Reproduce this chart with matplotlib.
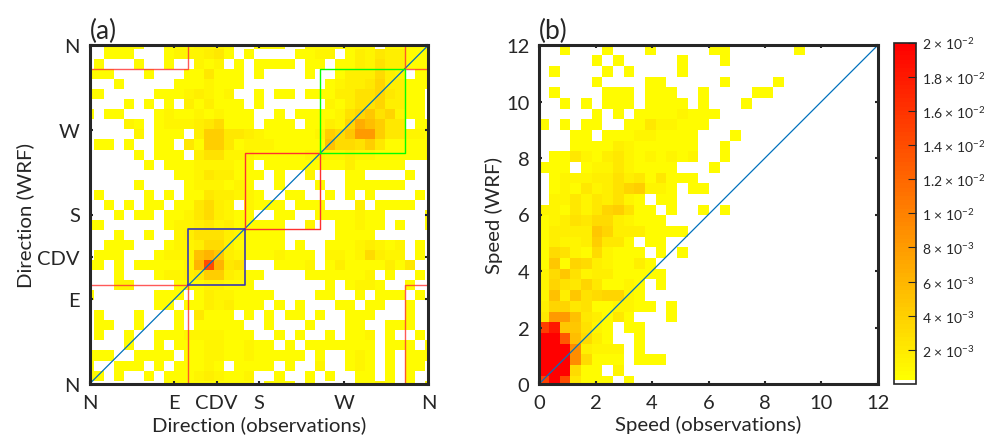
import numpy as np
import matplotlib
matplotlib.use("Agg")
import matplotlib.pyplot as plt
from matplotlib.colors import ListedColormap

plt.rcParams['font.family'] = ['Lato', 'DejaVu Sans']
plt.rcParams['mathtext.default'] = 'regular'

# histogram values, top row first, in units of 0.5e-3
unit = 0.5e-3
direction_hist = [
    [0,0,1,1,1,1,0,0,1,1,1,2,2,2,1,0,0,1,1,1,0,0,1,1,1,1,1,1,1,0,1,1,1,1,1],
    [0,0,1,1,1,0,0,0,1,2,2,2,3,4,1,0,1,0,0,0,0,1,1,2,2,0,1,3,2,4,3,3,1,1,1],
    [0,1,0,0,0,1,0,0,1,0,0,2,1,2,0,1,0,1,1,1,1,0,1,1,0,1,1,3,2,5,3,3,1,1,1],
    [1,1,1,0,0,0,1,0,0,0,1,1,4,1,1,1,0,1,0,0,0,0,1,0,0,1,3,3,3,6,3,2,0,1,1],
    [0,0,0,1,0,0,0,0,0,1,1,1,2,1,1,1,0,0,0,0,0,0,0,0,1,2,3,3,4,7,3,3,1,1,1],
    [1,1,0,0,0,0,0,1,1,1,2,3,2,1,2,0,0,1,0,1,1,0,1,1,1,3,3,5,5,7,4,3,1,1,0],
    [0,0,0,0,1,0,1,0,1,0,3,1,3,1,1,1,0,1,0,0,0,0,0,0,2,1,3,5,5,7,3,3,1,1,0],
    [1,0,1,1,0,0,0,1,2,1,1,2,1,2,1,1,1,0,0,1,0,1,1,1,1,2,5,7,9,5,7,2,1,1,0],
    [0,0,0,0,2,1,0,1,2,2,2,3,4,6,1,1,1,0,1,1,1,0,1,1,3,2,7,13,11,8,4,4,0,1,1],
    [0,0,0,0,0,2,0,1,1,1,0,3,8,8,4,4,3,2,1,1,1,1,1,2,8,6,9,16,16,8,4,4,2,2,1],
    [0,1,1,0,1,0,0,1,1,0,4,1,8,8,4,1,2,2,2,1,1,1,1,1,10,6,6,5,8,4,1,1,1,1,1],
    [0,0,0,0,0,1,0,1,1,1,0,3,5,5,2,2,2,1,1,1,1,1,2,3,2,2,3,2,2,1,1,1,1,1,1],
    [0,0,0,0,0,0,1,0,1,1,1,2,2,2,2,1,1,0,1,1,1,1,1,1,1,1,3,1,1,1,1,1,0,0,0],
    [0,0,0,0,0,0,0,0,0,1,1,2,4,3,3,1,1,1,0,1,0,0,2,0,0,0,1,1,0,0,0,0,1,0,0],
    [0,0,0,0,0,1,0,0,0,0,1,2,2,2,1,2,1,0,0,1,0,0,0,1,0,0,1,1,1,1,1,1,0,0,0],
    [0,1,0,0,0,0,1,0,1,0,1,1,4,3,3,2,2,1,0,0,1,1,0,0,1,0,1,0,1,0,0,0,0,1,0],
    [0,0,1,0,1,0,1,1,0,1,1,4,6,3,2,0,2,1,1,1,0,1,1,1,0,0,0,3,0,1,1,1,1,0,0],
    [0,0,0,1,0,1,1,0,1,1,2,4,6,3,2,1,1,0,0,1,1,0,0,1,1,1,1,2,1,1,0,0,0,0,1],
    [1,1,0,0,0,0,0,0,1,2,2,3,4,2,3,1,1,1,1,1,0,0,2,0,0,1,1,2,1,1,0,1,0,0,1],
    [0,0,0,1,0,0,1,0,0,2,3,5,5,5,3,2,1,1,1,1,0,0,0,0,0,1,1,1,1,0,0,0,0,0,0],
    [0,0,1,1,1,0,0,0,1,2,2,3,6,6,3,1,1,1,1,1,0,1,0,0,1,1,1,2,3,2,1,2,0,1,0],
    [0,1,1,1,0,0,0,1,2,2,2,10,12,9,3,2,1,1,1,2,1,1,1,0,2,2,1,2,6,3,2,2,0,1,0],
    [1,1,0,1,0,1,1,1,1,1,2,12,28,12,4,5,0,0,0,1,1,1,2,0,1,3,1,1,1,1,3,1,4,0,0],
    [0,0,0,1,0,0,0,1,2,2,3,4,8,8,3,2,1,1,0,0,0,0,1,1,1,1,1,1,2,0,1,0,0,1,0],
    [0,0,0,2,2,0,0,0,0,1,1,1,2,2,1,1,1,0,0,0,0,0,0,0,1,0,1,2,2,1,0,0,1,0,0],
    [1,0,0,0,0,0,0,1,1,1,0,1,3,2,2,1,1,1,1,0,0,0,0,1,1,0,0,1,0,1,1,1,0,1,0],
    [0,0,0,0,0,0,0,1,1,0,1,1,3,2,3,1,1,1,0,1,0,1,0,0,0,1,1,0,1,1,0,0,1,0,0],
    [0,1,0,0,0,1,0,0,0,1,0,4,1,1,1,0,1,0,1,0,1,1,0,1,0,0,1,1,1,0,0,0,1,0,0],
    [0,1,1,0,0,1,0,0,0,1,0,1,1,1,1,1,0,0,1,0,0,0,1,0,0,0,1,1,0,0,1,1,1,0,0],
    [0,1,0,0,1,0,0,1,1,1,2,2,2,2,1,1,1,0,0,1,0,1,0,0,1,0,1,1,2,0,1,0,0,1,0],
    [0,0,0,0,1,0,0,1,0,1,1,1,2,2,1,1,2,1,1,0,1,0,1,1,1,1,1,1,1,0,1,1,1,0,1],
    [1,1,1,0,0,1,1,1,1,0,1,1,2,2,1,1,2,1,1,1,1,1,0,1,0,0,1,2,1,0,1,0,1,1,1],
    [1,0,0,1,1,1,0,1,0,1,1,1,2,1,0,1,1,1,1,0,1,0,0,2,0,0,1,2,1,0,1,0,1,1,0],
    [1,1,0,1,0,0,1,0,1,1,1,2,3,2,1,1,2,0,0,1,0,0,1,0,1,0,0,1,1,0,1,0,1,0,0],
    [0,0,0,0,0,0,0,0,1,1,1,1,1,1,1,1,1,0,1,1,1,0,1,0,0,0,0,1,1,2,1,0,1,0,1],
]
speed_hist = [
    [0,0,1,0,0,0,1,0,0,0,1,0,0,0,0,0,1,1,0,0,0,0,0,0,1,0,0,0,0,0,0,0],
    [0,0,0,0,0,1,0,1,0,0,0,0,0,1,0,0,0,1,0,0,0,0,0,0,0,0,0,0,0,0,0,0],
    [0,1,0,0,0,0,1,0,1,0,0,0,0,1,0,0,0,0,0,0,0,0,0,0,0,0,0,0,0,0,0,0],
    [0,0,0,0,0,1,0,0,0,0,1,1,0,0,0,0,0,1,0,0,0,0,1,0,0,0,0,0,0,0,0,0],
    [0,1,0,0,0,0,1,1,1,0,1,1,1,0,0,1,0,0,0,0,1,1,0,0,0,0,0,0,0,0,0,0],
    [0,0,1,0,1,0,1,1,1,0,1,1,1,1,0,1,0,0,0,1,0,0,0,0,0,0,0,0,0,0,0,0],
    [0,0,0,0,0,1,0,1,0,1,1,1,1,2,1,1,1,0,0,0,0,0,0,0,0,0,0,0,0,0,0,0],
    [1,0,1,0,1,1,0,0,1,1,4,2,2,1,1,1,0,0,0,0,0,0,0,0,0,0,0,0,0,0,0,0],
    [0,0,0,1,1,0,1,1,1,2,2,1,1,1,1,0,0,0,1,0,0,0,0,0,0,0,0,0,0,0,0,0],
    [0,0,0,1,1,1,1,3,2,1,1,1,1,1,1,0,0,1,0,0,0,0,0,0,0,0,0,0,0,0,0,0],
    [0,1,1,4,2,1,3,4,2,1,2,1,2,1,2,0,0,1,0,0,0,0,0,0,0,0,0,0,0,0,0,0],
    [1,1,1,0,1,2,2,4,2,1,1,1,1,0,0,0,1,0,0,0,0,0,0,0,0,0,0,0,0,0,0,0],
    [0,1,2,2,2,3,3,5,3,4,1,4,1,1,1,0,0,0,0,0,0,0,0,0,0,0,0,0,0,0,0,0],
    [0,1,2,1,4,2,3,5,7,8,2,2,1,0,1,1,0,0,0,0,0,0,0,0,0,0,0,0,0,0,0,0],
    [0,2,2,4,2,4,3,5,2,1,0,1,1,0,0,0,0,0,0,0,0,0,0,0,0,0,0,0,0,0,0,0],
    [2,2,1,4,2,4,7,8,5,1,1,0,1,0,0,1,0,1,0,0,0,0,0,0,0,0,0,0,0,0,0,0],
    [1,2,3,5,4,6,6,3,2,1,1,1,0,0,0,0,0,0,0,0,0,0,0,0,0,0,0,0,0,0,0,0],
    [1,3,3,3,3,9,7,3,3,3,1,1,1,1,0,0,0,0,0,0,0,0,0,0,0,0,0,0,0,0,0,0],
    [1,3,2,2,3,8,4,4,1,0,1,1,0,0,0,0,0,0,0,0,0,0,0,0,0,0,0,0,0,0,0,0],
    [1,6,5,2,1,6,2,1,1,1,0,1,0,1,0,0,0,0,0,0,0,0,0,0,0,0,0,0,0,0,0,0],
    [1,9,1,7,6,3,2,1,1,3,1,0,0,0,0,0,0,0,0,0,0,0,0,0,0,0,0,0,0,0,0,0],
    [2,6,9,5,2,3,3,1,1,1,1,1,0,0,0,0,0,0,0,0,0,0,0,0,0,0,0,0,0,0,0,0],
    [2,7,5,4,7,4,1,1,2,1,0,1,0,0,0,0,0,0,0,0,0,0,0,0,0,0,0,0,0,0,0,0],
    [2,10,3,9,5,6,7,7,2,1,0,0,0,0,0,0,0,0,0,0,0,0,0,0,0,0,0,0,0,0,0,0],
    [3,7,7,4,5,1,1,2,2,1,1,0,1,0,0,0,0,0,0,0,0,0,0,0,0,0,0,0,0,0,0,0],
    [4,16,16,10,4,3,1,4,1,0,0,0,1,0,0,0,0,0,0,0,0,0,0,0,0,0,0,0,0,0,0,0],
    [30,36,9,9,5,2,1,0,1,1,0,0,0,0,0,0,0,0,0,0,0,0,0,0,0,0,0,0,0,0,0,0],
    [40,40,26,11,6,3,1,0,0,1,0,0,0,0,0,0,0,0,0,0,0,0,0,0,0,0,0,0,0,0,0,0],
    [40,40,40,18,3,2,2,2,0,1,0,0,0,0,0,0,0,0,0,0,0,0,0,0,0,0,0,0,0,0,0,0],
    [40,40,40,18,6,1,1,1,0,1,1,1,0,0,0,0,0,0,0,0,0,0,0,0,0,0,0,0,0,0,0,0],
    [40,40,40,6,1,1,0,2,0,0,0,0,0,0,0,0,0,0,0,0,0,0,0,0,0,0,0,0,0,0,0,0],
    [30,40,28,4,1,1,1,0,1,0,0,0,0,0,0,0,0,0,0,0,0,0,0,0,0,0,0,0,0,0,0,0],
]

dir_ticks = [0, 90, 135, 180, 270, 360]
dir_labels = ['N', 'E', 'CDV', 'S', 'W', 'N']
speed_ticks = [0, 2, 4, 6, 8, 10, 12]
cbar_ticks = [0.002, 0.004, 0.006, 0.008, 0.01, 0.012, 0.014, 0.016, 0.018, 0.02]
cbar_labels = ['2 $\\times$ 10$^{-3}$', '4 $\\times$ 10$^{-3}$', '6 $\\times$ 10$^{-3}$', '8 $\\times$ 10$^{-3}$',
               '1 $\\times$ 10$^{-2}$', '1.2 $\\times$ 10$^{-2}$', '1.4 $\\times$ 10$^{-2}$',
               '1.6 $\\times$ 10$^{-2}$', '1.8 $\\times$ 10$^{-2}$', '2 $\\times$ 10$^{-2}$']
# sector boundaries in degrees
sec = [105, 165, 245, 335]

dark = '#262626'
W, H = 984, 439


def px_axes(l, t, r, b):
    return fig.add_axes([l / W, 1 - b / H, (r - l) / W, (b - t) / H])


levels = np.linspace(0, 1, 79)
cols = np.column_stack([np.ones(79), 1 - levels, np.zeros(79)])
cmap = ListedColormap(np.vstack([[1, 1, 1], cols]))

fig = plt.figure(figsize=(W / 100, H / 100), dpi=100)

# panel a
ax = px_axes(89.5, 46, 428.5, 385)
Z = np.array(direction_hist)[::-1] * unit
w = 10.67
x_edges = np.r_[0, 4.4 + w * np.arange(34), 360]
y_edges = np.r_[0, 3.6 + w * np.arange(34), 360]
mesh = ax.pcolormesh(x_edges, y_edges, Z, cmap=cmap, vmin=0, vmax=0.02, antialiased=False)
ax.plot([0, 360], [0, 360], color='#0072BD', lw=0.9)
red = '#FF3030'
ax.plot([0, sec[0], sec[0]], [sec[3], sec[3], 360], color=red, lw=1, alpha=0.8)
ax.plot([0, sec[0], sec[0]], [sec[0], sec[0], 0], color=red, lw=1, alpha=0.8)
ax.plot([sec[3], sec[3], 360], [0, sec[0], sec[0]], color=red, lw=1, alpha=0.8)
ax.plot([sec[3], sec[3], 360], [360, sec[3], sec[3]], color=red, lw=1, alpha=0.8)
ax.plot([sec[1], sec[2], sec[2], sec[1], sec[1]], [sec[1], sec[1], sec[2], sec[2], sec[1]], color=red, lw=1)
ax.plot([sec[2], sec[3], sec[3], sec[2], sec[2]], [sec[2], sec[2], sec[3], sec[3], sec[2]], color='#00FF00', lw=1)
ax.plot([sec[0], sec[1], sec[1], sec[0], sec[0]], [sec[0], sec[0], sec[1], sec[1], sec[0]], color='#3A3AB0', lw=1.2)
ax.set_xlim(0, 360)
ax.set_ylim(0, 360)
ax.set_xticks(dir_ticks, dir_labels)
ax.set_yticks(dir_ticks, dir_labels)
ax.set_xlabel('Direction (observations)', fontsize=14.7, color=dark, labelpad=3)
ax.set_ylabel('Direction (WRF)', fontsize=14.7, color=dark, labelpad=2)
ax_a = ax

# panel b
ax = px_axes(539, 46, 878, 385)
Z = np.array(speed_hist)[::-1] * unit
w = 0.3777
x_edges = np.r_[0, 0.35 + w * np.arange(31)]
x_edges = np.r_[x_edges, 12]
y_edges = np.r_[0, 0.3 + w * np.arange(31)]
y_edges = np.r_[y_edges, 12]
mesh = ax.pcolormesh(x_edges, y_edges, Z, cmap=cmap, vmin=0, vmax=0.02, antialiased=False)
ax.plot([0, 12], [0, 12], color='#0072BD', lw=0.9)
ax.set_xlim(0, 12)
ax.set_ylim(0, 12)
ax.set_xticks(speed_ticks)
ax.set_yticks(speed_ticks)
ax.set_xlabel('Speed (observations)', fontsize=14.7, color=dark, labelpad=3)
ax.set_ylabel('Speed (WRF)', fontsize=14.7, color=dark, labelpad=2)
ax_b = ax

for ax, name in [(ax_a, '(a)'), (ax_b, '(b)')]:
    ax.tick_params(direction='in', length=2.5, width=1.5, top=True, right=True, labelsize=14.5,
                   colors=dark, pad=7)
    ax.tick_params(axis='y', pad=7)
    for s in ax.spines.values():
        s.set_linewidth(2.2)
        s.set_color(dark)
    ax.text(0.0, 1.006, name, transform=ax.transAxes, fontsize=19, color=dark, va='bottom', ha='left')

# colorbar
cax = px_axes(893.5, 43.5, 916, 385)
cb = fig.colorbar(mesh, cax=cax)
cb.set_ticks(cbar_ticks, labels=cbar_labels)
cax.tick_params(direction='in', length=6, width=0.8, labelsize=10, colors=dark, pad=4)
cb.outline.set_edgecolor(dark)
cb.outline.set_linewidth(1.2)

fig.savefig('out.png', dpi=100)
